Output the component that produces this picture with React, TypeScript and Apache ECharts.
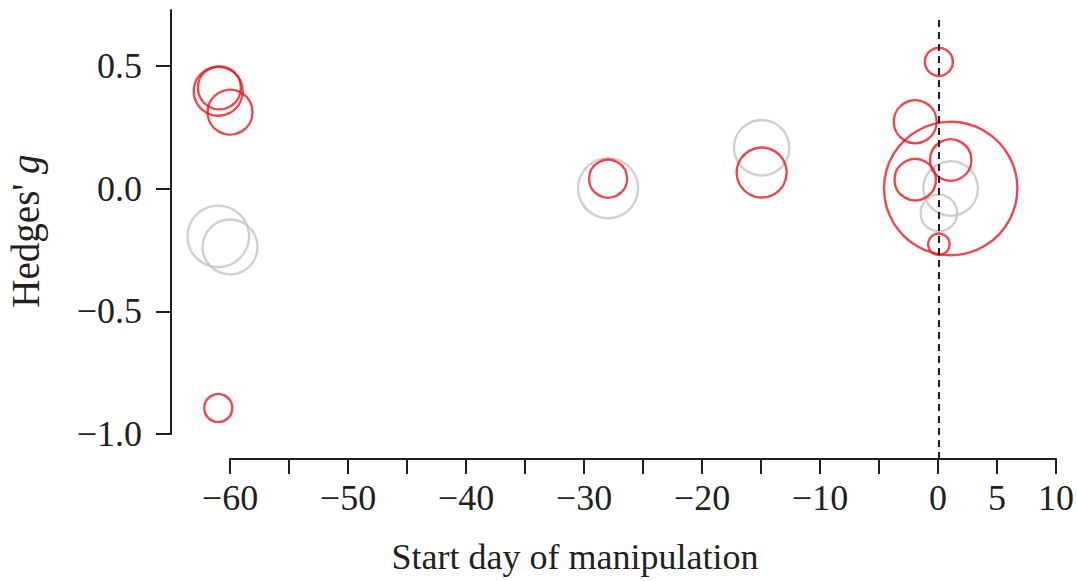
import React, { useEffect, useRef } from "react";
import * as echarts from "echarts";

// ---- data ----
const redX = [-61.0, -60.9, -60.0, -61.0, -28.0, -15.0, -2.0, -2.0, 0, 0, 1, 1];
const redY = [0.396, 0.41, 0.311, -0.894, 0.04, 0.065, 0.272, 0.036, 0.516, -0.227, 0.116, 0.0];
const redW = [6.5, 5.06, 5.52, 2.25, 4.0, 6.76, 5.06, 4.71, 2.25, 1.37, 4.71, 45.8];

const grayX = [-61.0, -60.0, -28.0, -15.0, 1, 0];
const grayY = [-0.195, -0.238, 0.001, 0.166, 0.0, -0.1];
const grayW = [10.1, 8.12, 9.61, 8.24, 8.01, 3.72];

const xTickLabels = [-60, -50, -40, -30, -20, -10, 0, 5, 10];
const xTicks = [-60, -55, -50, -45, -40, -35, -30, -25, -20, -15, -10, -5, 0, 5, 10];
const yTicks = [-1.0, -0.5, 0.0, 0.5];

const X_TITLE = "Start day of manipulation";

// ---- styles ----
const FONT = "Liberation Serif";
const AXIS_COLOR = "#231f20";
const RED = "#e51b24";
const GRAY = "#c4c4c4";
const FS = 36;

const Y_MIN = -1.1018;
const Y_MAX = 0.7271;

const minus = (s: string) => s.replace("-", "\u2212");

const sizeOf = (w: number) => 20 * Math.sqrt(w) - 2;

const toPoints = (xs: number[], ys: number[], ws: number[]) =>
  xs.map((x, i) => [x, ys[i], ws[i]]);

export default function App() {
  const ref = useRef<HTMLDivElement>(null);
  useEffect(() => {
    if (!ref.current) return;
    const chart = echarts.init(ref.current, undefined, { renderer: "svg" });
    const labelStyle = {
      fontFamily: FONT,
      fontSize: FS,
      color: AXIS_COLOR,
    };
    chart.setOption({
      animation: false,
      backgroundColor: "#ffffff",
      grid: [
        { left: 171, right: 20, top: 10, bottom: 122 },
        { left: 171, width: 1, top: 10, bottom: 147 },
        { left: 230, right: 20, top: 449, height: 10 },
      ],
      xAxis: [
        { gridIndex: 0, type: "value", min: -65, max: 10, show: false },
        { gridIndex: 1, type: "value", min: 0, max: 1, show: false },
        {
          gridIndex: 2,
          type: "value",
          min: -60,
          max: 10,
          interval: 5,
          splitLine: { show: false },
          axisLine: { show: true, lineStyle: { color: AXIS_COLOR, width: 2 } },
          axisTick: {
            show: true,
            inside: false,
            length: 15,
            customValues: xTicks,
            lineStyle: { color: AXIS_COLOR, width: 2 },
          },
          axisLabel: {
            ...labelStyle,
            margin: 21,
            customValues: xTickLabels,
            formatter: (v: number) => minus(String(v)),
          },
        },
      ],
      yAxis: [
        { gridIndex: 0, type: "value", min: Y_MIN, max: Y_MAX, show: false },
        {
          gridIndex: 1,
          type: "value",
          min: -1.0,
          max: Y_MAX,
          interval: 0.5,
          splitLine: { show: false },
          axisLine: { show: true, lineStyle: { color: AXIS_COLOR, width: 2 } },
          axisTick: {
            show: true,
            inside: false,
            length: 15,
            customValues: yTicks,
            lineStyle: { color: AXIS_COLOR, width: 2 },
          },
          axisLabel: {
            ...labelStyle,
            margin: 29,
            customValues: yTicks,
            formatter: (v: number) => minus(v.toFixed(1)),
          },
        },
        { gridIndex: 2, type: "value", min: 0, max: 1, show: false },
      ],
      graphic: [
        {
          type: "text",
          x: 575,
          y: 557,
          style: {
            text: X_TITLE,
            fontFamily: FONT,
            fontSize: 36,
            fill: AXIS_COLOR,
            align: "center",
            verticalAlign: "middle",
          },
        },
        {
          type: "text",
          x: 25,
          y: 231,
          rotation: Math.PI / 2,
          style: {
            text: "{r|Hedges' }{i|g}",
            fontFamily: FONT,
            fontSize: 39,
            fill: AXIS_COLOR,
            align: "center",
            verticalAlign: "middle",
            rich: {
              r: { fontFamily: FONT, fontSize: 39, fill: AXIS_COLOR },
              i: { fontFamily: FONT, fontSize: 39, fill: AXIS_COLOR, fontStyle: "italic" },
            },
          },
        },
      ],
      series: [
        {
          type: "scatter",
          xAxisIndex: 0,
          yAxisIndex: 0,
          data: toPoints(grayX, grayY, grayW),
          symbol: "circle",
          symbolSize: (d: number[]) => sizeOf(d[2]),
          itemStyle: { color: "rgba(0,0,0,0)", borderColor: GRAY, borderWidth: 2.4 },
          emphasis: { disabled: true },
          markLine: {
            silent: true,
            symbol: "none",
            label: { show: false },
            lineStyle: { color: AXIS_COLOR, width: 2, type: [7, 5] },
            data: [[{ coord: [0, Y_MIN] }, { coord: [0, 0.70] }]],
          },
        },
        {
          type: "scatter",
          xAxisIndex: 0,
          yAxisIndex: 0,
          data: toPoints(redX, redY, redW),
          symbol: "circle",
          symbolSize: (d: number[]) => sizeOf(d[2]),
          itemStyle: { color: "rgba(0,0,0,0)", borderColor: RED, borderWidth: 2.4 },
          emphasis: { disabled: true },
        },
      ],
    });
    return () => chart.dispose();
  }, []);
  return (
    <div
      ref={ref}
      style={{ position: "absolute", left: 0, top: 0, width: 1077, height: 581 }}
    />
  );
}
